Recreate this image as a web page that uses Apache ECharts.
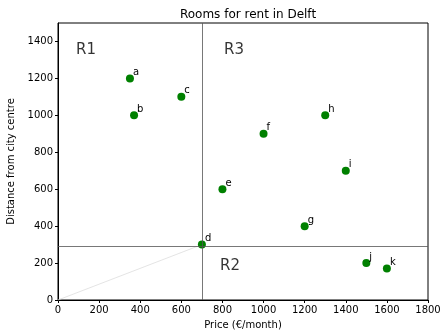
<!DOCTYPE html>
<html><head><meta charset="utf-8">
<script src="https://cdn.jsdelivr.net/npm/echarts@6/dist/echarts.min.js"></script>
<style>html,body{margin:0;padding:0;background:#fff}#c{width:440px;height:336px}</style>
</head><body><div id="c"></div>
<script>
const names = ['a','b','c','d','e','f','g','h','i','j','k'];
const prices = [350, 370, 600, 700, 800, 1000, 1200, 1300, 1400, 1500, 1600];
const distances = [1200, 1000, 1100, 300, 600, 900, 400, 1000, 700, 200, 170];
const priceThreshold = 700;
const distanceThreshold = 290;
const regionLabels = ['R1', 'R3', 'R2'];
const regionPos = [[136, 1352], [856, 1352], [837, 184]];
const xTicks = [0,200,400,600,800,1000,1200,1400,1600,1800];
const yTicks = [0,200,400,600,800,1000,1200,1400];

const font = 'DejaVu Sans';
const chart = echarts.init(document.getElementById('c'));
chart.setOption({
  animation: false,
  title: {text: 'Rooms for rent in Delft', left: 243, top: 4, textAlign: 'center',
    textStyle: {fontFamily: font, fontSize: 12, fontWeight: 'normal', color: '#000'}},
  grid: {left: 58, right: 12, top: 23, bottom: 36, show: true, borderColor: '#000', borderWidth: 1,
    containLabel: false, outerBoundsMode: 'none'},
  xAxis: {type: 'value', min: 0, max: 1800, interval: 200,
    name: 'Price (€/month)', nameLocation: 'middle', nameGap: 20,
    nameTextStyle: {fontFamily: font, fontSize: 10, color: '#000'},
    axisLine: {show: true, lineStyle: {color: '#000'}},
    axisTick: {show: true, length: 3, lineStyle: {color: '#000'}},
    axisLabel: {fontFamily: font, fontSize: 10, color: '#000', margin: 5, formatter: v => String(v)},
    splitLine: {show: false}},
  yAxis: {type: 'value', min: 0, max: 1500,
    name: 'Distance from city centre', nameLocation: 'middle', nameGap: 38,
    nameTextStyle: {fontFamily: font, fontSize: 10, color: '#000'},
    axisLine: {show: true, lineStyle: {color: '#000'}},
    axisTick: {show: true, length: 3, lineStyle: {color: '#000'}, customValues: yTicks},
    axisLabel: {fontFamily: font, fontSize: 10, color: '#000', margin: 5, customValues: yTicks, formatter: v => String(v)},
    splitLine: {show: false}},
  series: [
    {type: 'line', data: [[0, 0], [prices[3], distances[3]]], symbol: 'none',
      lineStyle: {color: '#dddddd', width: 0.8}, silent: true, z: 1,
      markLine: {silent: true, symbol: 'none', label: {show: false},
        lineStyle: {color: '#555', width: 0.8, type: 'solid'},
        data: [{xAxis: priceThreshold}, {yAxis: distanceThreshold}]}},
    {type: 'scatter', symbolSize: 8, z: 3,
      itemStyle: {color: '#008000', opacity: 1},
      data: prices.map((p, i) => ({value: [p, distances[i]], name: names[i]})),
      label: {show: true, formatter: '{b}', position: [7, -7], align: 'left', verticalAlign: 'top',
        fontFamily: font, fontSize: 10, color: '#000'}},
    {type: 'scatter', symbolSize: 0, silent: true,
      data: regionPos.map((p, i) => ({value: p, name: regionLabels[i]})),
      label: {show: true, formatter: '{b}', position: 'inside', fontFamily: font, fontSize: 15, color: '#000'}}
  ]
});
</script></body></html>
